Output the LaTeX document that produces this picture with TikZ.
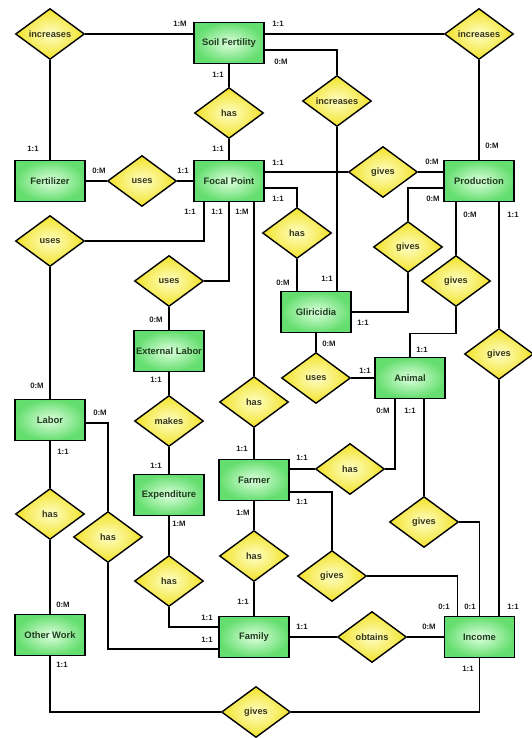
\documentclass[tikz,border=0pt]{standalone}
\usepackage{fontspec}
\setmainfont{Liberation Sans}
\usetikzlibrary{shapes.geometric,backgrounds}
\definecolor{entIn}{RGB}{222,255,222}
\definecolor{entOut}{RGB}{100,222,110}
\definecolor{relIn}{RGB}{255,255,200}
\definecolor{relOut}{RGB}{242,226,40}
\definecolor{entText}{RGB}{30,60,30}
\definecolor{relText}{RGB}{55,55,25}
\definecolor{labText}{RGB}{30,30,30}
\tikzset{
  ent/.style={rectangle, draw=black, line width=1.4pt, minimum width=70pt, minimum height=41pt,
    inner sep=1pt, inner color=entIn, outer color=entOut, text=entText,
    font=\bfseries\fontsize{9.4}{10}\selectfont},
  rel/.style={diamond, draw=black, line width=1.4pt, minimum width=69pt, minimum height=51pt,
    aspect=1.35, inner sep=0pt, inner color=relIn, outer color=relOut, text=relText,
    font=\bfseries\fontsize{9.2}{10}\selectfont},
  lab/.style={inner sep=0pt, text=labText, font=\bfseries\fontsize{7.8}{8}\selectfont},
  conn/.style={draw=black, line width=1.3pt}
}
\begin{document}
\begin{tikzpicture}[x=1pt,y=-1pt]
\useasboundingbox (0,0) rectangle (532,738);
% entities
\node[ent] (sf) at (229,43) {Soil Fertility};
\node[ent] (fert) at (50,181) {Fertilizer};
\node[ent] (fp) at (229,181) {Focal Point};
\node[ent] (prod) at (479,181) {Production};
\node[ent] (glir) at (316,312) {Gliricidia};
\node[ent] (ext) at (169,351) {External Labor};
\node[ent] (anim) at (410,378) {Animal};
\node[ent] (labor) at (50,420) {Labor};
\node[ent] (farmer) at (254,480) {Farmer};
\node[ent] (expend) at (169,495) {Expenditure};
\node[ent] (other) at (50,635) {Other Work};
\node[ent] (family) at (254,637) {Family};
\node[ent] (income) at (479.5,637) {Income};
% relationships
\node[rel] (incL) at (50,34) {increases};
\node[rel] (incR) at (479,34) {increases};
\node[rel] (hasSF) at (229,113) {has};
\node[rel] (incM) at (337,101) {increases};
\node[rel] (usesF) at (142,181) {uses};
\node[rel] (givesP) at (383,172) {gives};
\node[rel] (usesL) at (50,241) {uses};
\node[rel] (hasG) at (297,233) {has};
\node[rel] (givesPG) at (408,247) {gives};
\node[rel] (givesPA) at (456,281) {gives};
\node[rel] (usesE) at (169,281) {uses};
\node[rel] (givesR) at (499,354) {gives};
\node[rel] (hasF) at (254,402) {has};
\node[rel] (usesA) at (316,378) {uses};
\node[rel] (makes) at (169,421) {makes};
\node[rel] (hasFA) at (350,469) {has};
\node[rel] (hasLO) at (50,514) {has};
\node[rel] (hasLF) at (108,537) {has};
\node[rel] (givesAI) at (424,522) {gives};
\node[rel] (hasFF) at (254,556) {has};
\node[rel] (hasEF) at (169,581) {has};
\node[rel] (givesFI) at (332,576) {gives};
\node[rel] (obtains) at (372,637) {obtains};
\node[rel] (givesB) at (256,712) {gives};
% connectors
\begin{scope}[on background layer]
\fill[white] (0,0) rectangle (532,738);
\draw[conn] (incL.east) -- (sf.west |- incL.east);
\draw[conn] (incL.south) -- (fert.north);
\draw[conn] (sf.east |- incR.west) -- (incR.west);
\draw[conn] (incR.south) -- (prod.north);
\draw[conn] ([yshift=-7pt]sf.east) -| (incM.north);
\draw[conn] (incM.south) -- (incM.south |- glir.north);
\fill (incM.south |- givesP.west) circle (1.4pt);
\draw[conn] (sf.south) -- (hasSF.north);
\draw[conn] (hasSF.south) -- (fp.north);
\draw[conn] (fert.east) -- (usesF.west);
\draw[conn] (usesF.east) -- (fp.west);
\draw[conn] (fp.east |- givesP.west) -- (givesP.west);
\draw[conn] (givesP.east) -- (prod.west |- givesP.east);
\draw[conn] ([yshift=-7pt]fp.east) -| (hasG.north);
\draw[conn] (hasG.south) -- (hasG.south |- glir.north);
\draw[conn] ([yshift=-7pt]prod.west) -| (givesPG.north);
\draw[conn] (givesPG.south) |- (glir.east);
\draw[conn] (givesPA.north |- prod.south) -- (givesPA.north);
\draw[conn] (givesPA.south) -- ++(0,26) -| (anim.north);
\draw[conn] (givesR.north |- prod.south) -- (givesR.north);
\draw[conn] (givesR.south) -- (givesR.south |- income.north);
\draw[conn] ([xshift=-25pt]fp.south) |- (usesL.east);
\draw[conn] (usesL.south) -- (labor.north);
\draw[conn] (fp.south) |- (usesE.east);
\draw[conn] (usesE.south) -- (ext.north);
\draw[conn] (hasF.north |- fp.south) -- (hasF.north);
\draw[conn] (hasF.south) -- (farmer.north);
\draw[conn] (ext.south) -- (makes.north);
\draw[conn] (makes.south) -- (expend.north);
\draw[conn] (glir.south) -- (usesA.north);
\draw[conn] (usesA.east) -- (anim.west);
\draw[conn] ([xshift=-15pt]anim.south) |- (hasFA.east);
\draw[conn] (hasFA.west) -- (farmer.east |- hasFA.west);
\draw[conn] (givesAI.north |- anim.south) -- (givesAI.north);
\draw[conn] (givesAI.east) -| (income.north);
\draw[conn] ([yshift=-12pt]farmer.east) -| (givesFI.north);
\draw[conn] (givesFI.east) -| ([xshift=-22pt]income.north);
\draw[conn] (labor.south) -- (hasLO.north);
\draw[conn] (hasLO.south) -- (other.north);
\draw[conn] ([yshift=-3pt]labor.east) -| (hasLF.north);
\draw[conn] (hasLF.south) |- ([yshift=-12pt]family.west);
\draw[conn] (expend.south) -- (hasEF.north);
\draw[conn] (hasEF.south) |- ([yshift=10pt]family.west);
\draw[conn] (farmer.south) -- (hasFF.north);
\draw[conn] (hasFF.south) -- (family.north);
\draw[conn] (family.east) -- (obtains.west);
\draw[conn] (obtains.east) -- (income.west);
\draw[conn] (other.south) |- (givesB.west);
\draw[conn] (givesB.east) -| (income.south);
\end{scope}
% cardinality labels
\node[lab] (c1) at (180,24) {1:M};
\node[lab] (c2) at (33,149) {1:1};
\node[lab] (c3) at (278,24) {1:1};
\node[lab] (c4) at (492,146) {0:M};
\node[lab] (c5) at (281,62) {0:M};
\node[lab] (c6) at (327,279) {1:1};
\node[lab] (c7) at (218,75) {1:1};
\node[lab] (c8) at (218,149) {1:1};
\node[lab] (c9) at (99,171) {0:M};
\node[lab] (c10) at (183,171) {1:1};
\node[lab] (c11) at (278,163) {1:1};
\node[lab] (c12) at (432,162) {0:M};
\node[lab] (c13) at (278,199) {1:1};
\node[lab] (c14) at (283,283) {0:M};
\node[lab] (c15) at (433,199) {0:M};
\node[lab] (c16) at (363,323) {1:1};
\node[lab] (c17) at (470,215) {0:M};
\node[lab] (c18) at (422,350) {1:1};
\node[lab] (c19) at (513,215) {1:1};
\node[lab] (c20) at (513,607) {1:1};
\node[lab] (c21) at (190,212) {1:1};
\node[lab] (c22) at (37,386) {0:M};
\node[lab] (c23) at (217,212) {1:1};
\node[lab] (c24) at (156,320) {0:M};
\node[lab] (c25) at (242,212) {1:M};
\node[lab] (c26) at (242,449) {1:1};
\node[lab] (c27) at (156,380) {1:1};
\node[lab] (c28) at (156,466) {1:1};
\node[lab] (c29) at (329,344) {0:M};
\node[lab] (c30) at (365,371) {1:1};
\node[lab] (c31) at (383,411) {0:M};
\node[lab] (c32) at (302,458) {1:1};
\node[lab] (c33) at (410,411) {1:1};
\node[lab] (c34) at (470,607) {0:1};
\node[lab] (c35) at (302,502) {1:1};
\node[lab] (c36) at (444,607) {0:1};
\node[lab] (c37) at (63,452) {1:1};
\node[lab] (c38) at (63,605) {0:M};
\node[lab] (c39) at (100,413) {0:M};
\node[lab] (c40) at (207,640) {1:1};
\node[lab] (c41) at (179,524) {1:M};
\node[lab] (c42) at (207,618) {1:1};
\node[lab] (c43) at (243,513) {1:M};
\node[lab] (c44) at (243,602) {1:1};
\node[lab] (c45) at (302,627) {1:1};
\node[lab] (c46) at (429,627) {0:M};
\node[lab] (c47) at (62,665) {1:1};
\node[lab] (c48) at (468,669) {1:1};
\end{tikzpicture}
\end{document}
